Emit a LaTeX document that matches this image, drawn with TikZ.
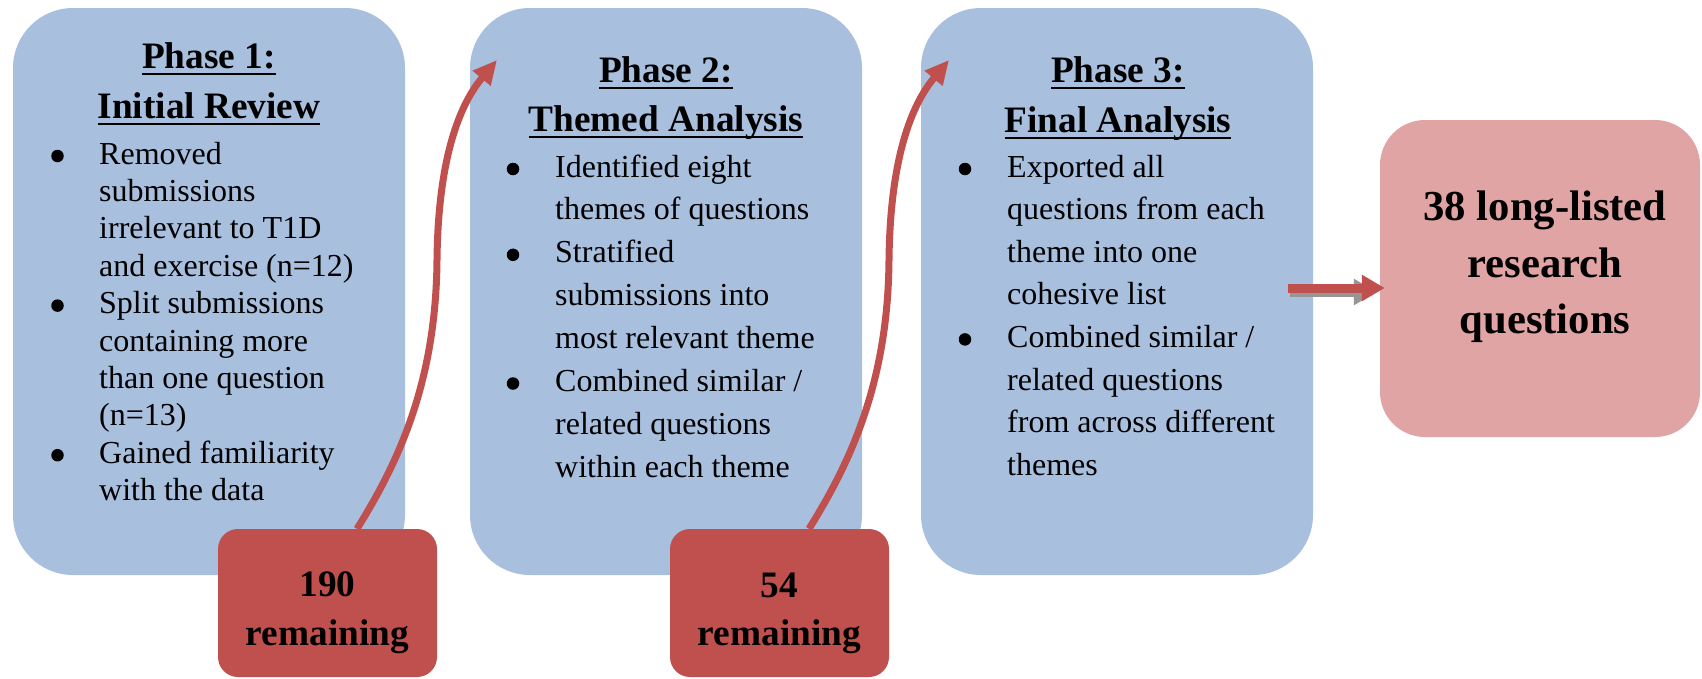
\documentclass[tikz,border=0pt]{standalone}
\usepackage{fontspec}
\setmainfont{Liberation Serif}
\usetikzlibrary{arrows.meta}
\definecolor{boxblue}{RGB}{168,191,222}
\definecolor{boxred}{RGB}{192,80,77}
\definecolor{boxpink}{RGB}{223,164,163}
\definecolor{shadowgray}{RGB}{150,150,150}
\newcommand\phul[1]{\setbox0\hbox{#1}\rlap{\rule[-7.3pt]{\wd0}{2.7pt}}\box0}
\begin{document}
\begin{tikzpicture}[x=1pt,y=-1pt,
  phase/.style={fill=boxblue, rounded corners=60pt, minimum width=392pt, minimum height=567pt, inner sep=0pt},
  countbox/.style={fill=boxred, rounded corners=20pt, minimum width=219pt, minimum height=148pt, inner sep=0pt},
  result/.style={fill=boxpink, rounded corners=45pt, minimum width=320pt, minimum height=317pt, inner sep=0pt},
  head/.style={anchor=base, inner sep=0pt, font=\fontsize{37.3}{44}\selectfont\bfseries},
  body/.style={anchor=base west, inner sep=0pt, font=\fontsize{32}{37}\selectfont},
  bul/.style={circle, fill=black, inner sep=0pt, minimum size=12.5pt},
  big/.style={anchor=base, inner sep=0pt, font=\fontsize{42.7}{50}\selectfont\bfseries},
  flow/.style={draw=boxred, line width=7pt, -{Triangle[length=24pt,width=22pt]}},
  blockarrow/.style={line width=9pt, -{Triangle[length=23pt,width=25pt]}},
]
\useasboundingbox (0,0) rectangle (1702,678);

% phase boxes
\node[phase] (ph1) at (209,291.5) {};
\node[phase] (ph2) at (666,291.5) {};
\node[phase] (ph3) at (1117,291.5) {};
\node[result] (res) at (1540,278.5) {};

% count boxes
\node[countbox] (r1) at (327.5,603) {};
\node[countbox] (r2) at (779.5,603) {};

% curved arrows
\coordinate (t1) at (497,60);
\coordinate (t2) at (949,60);
\draw[flow] ([xshift=29.5pt]r1.north) .. controls (400,460) and (436,380) .. (437,260)
  .. controls (438,170) and (455,110) .. (t1);
\draw[flow] ([xshift=29.5pt]r2.north) .. controls (852,460) and (888,380) .. (889,260)
  .. controls (890,170) and (907,110) .. (t2);

% straight block arrow with shadow
\draw[blockarrow, shadowgray] ([shift={(-23,0.5)}]ph3.east) -- ([shift={(-3,13.5)}]res.west);
\draw[blockarrow, boxred] ([shift={(-25,-3.5)}]ph3.east) -- ([shift={(5,9.5)}]res.west);

% headers
\node[head] (h1a) at (209,68) {\phul{Phase 1:}};
\node[head] (h1b) at (209,118) {\phul{Initial Review}};
\node[head] (h2a) at (666,82) {\phul{Phase 2:}};
\node[head] (h2b) at (666,131) {\phul{Themed Analysis}};
\node[head] (h3a) at (1118,82) {\phul{Phase 3:}};
\node[head] (h3b) at (1118,132) {\phul{Final Analysis}};

% body text box 1
\foreach \t [count=\i from 0] in {Removed, submissions, irrelevant to T1D, and exercise (n=12), Split submissions, containing more, than one question, (n=13), Gained familiarity, with the data}
  \node[body] (b1l\i) at (99,{164+37.4*\i}) {\t};
\foreach \i in {0,4,8}
  \node[bul] (b1b\i) at (57.5,{156+37.4*\i}) {};

% body text box 2
\foreach \t [count=\i from 0] in {Identified eight, themes of questions, Stratified, submissions into, most relevant theme, Combined similar /, related questions, within each theme}
  \node[body] (b2l\i) at (555,{177+42.9*\i}) {\t};
\foreach \i in {0,2,5}
  \node[bul] (b2b\i) at (513,{169+42.9*\i}) {};

% body text box 3
\foreach \t [count=\i from 0] in {Exported all, questions from each, theme into one, cohesive list, Combined similar /, related questions, from across different, themes}
  \node[body] (b3l\i) at (1007,{177+42.6*\i}) {\t};
\foreach \i in {0,4}
  \node[bul] (b3b\i) at (965,{169+42.6*\i}) {};

% count texts
\node[head] (c1a) at (327.5,596) {190};
\node[head] (c1b) at (327.5,645) {remaining};
\node[head] (c2a) at (779.5,597) {54};
\node[head] (c2b) at (779.5,645) {remaining};

% result text
\node[big] (q1) at (1545,220) {38 long-listed};
\node[big] (q2) at (1545,277) {research};
\node[big] (q3) at (1545,333) {questions};
\end{tikzpicture}
\end{document}
